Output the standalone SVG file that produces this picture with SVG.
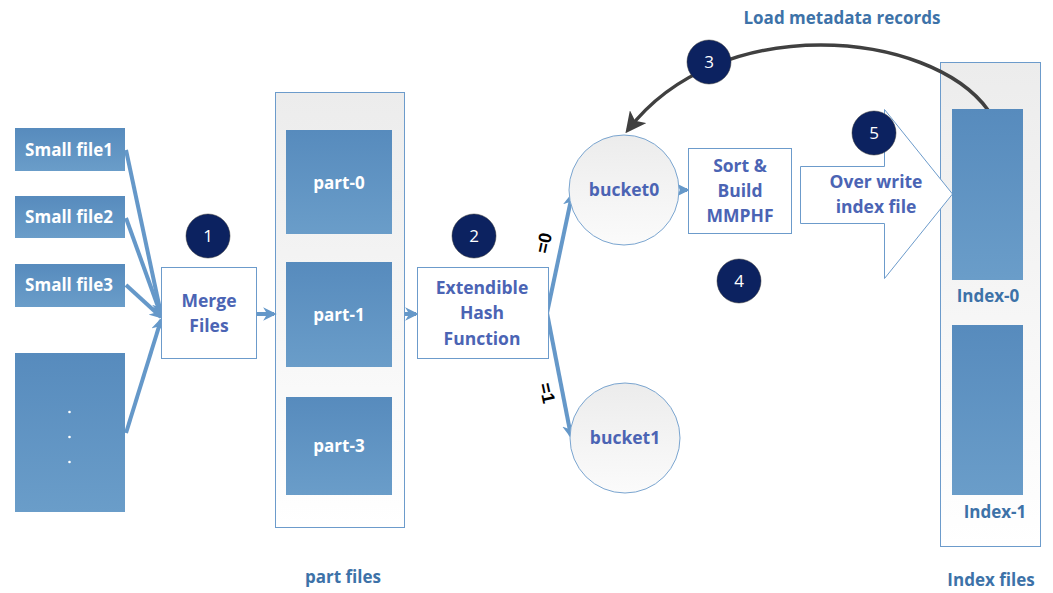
<svg xmlns="http://www.w3.org/2000/svg" width="1053" height="593" viewBox="0 0 1053 593">
<defs>
<linearGradient id="blue" x1="0" y1="0" x2="0" y2="1">
<stop offset="0" stop-color="#578bbd"/><stop offset="1" stop-color="#6a9dc9"/>
</linearGradient>
<linearGradient id="pale" x1="0" y1="0" x2="0" y2="1">
<stop offset="0" stop-color="#ececec"/><stop offset="1" stop-color="#ffffff"/>
</linearGradient>
<linearGradient id="ball" x1="0" y1="0" x2="0" y2="1">
<stop offset="0" stop-color="#ececec"/><stop offset="1" stop-color="#fbfbfb"/>
</linearGradient>
<marker id="ab" viewBox="0 0 10 10" refX="8" refY="5" markerWidth="3.4" markerHeight="3.4" orient="auto" markerUnits="strokeWidth">
<path d="M0,0 L10,5 L0,10 L3,5 z" fill="#6598c9"/>
</marker>
<marker id="ad" viewBox="0 0 10 10" refX="8" refY="5" markerWidth="6" markerHeight="6" orient="auto" markerUnits="strokeWidth">
<path d="M0,0 L10,5 L0,10 L2.5,5 z" fill="#404040"/>
</marker>
<style>
.fb{fill:url(#blue);}
.wt{font-family:"Open Sans","Liberation Sans",sans-serif;font-weight:bold;font-size:17px;fill:#ffffff;text-anchor:middle;}
.bt{font-family:"Open Sans","Liberation Sans",sans-serif;font-weight:bold;font-size:17.5px;fill:#4b64b4;text-anchor:middle;}
.lt{font-family:"Open Sans","Liberation Sans",sans-serif;font-weight:bold;font-size:17px;fill:#3d72a8;text-anchor:middle;}
.box{fill:#ffffff;stroke:#6c9bcb;stroke-width:1;}
.cont{fill:url(#pale);stroke:#6c9bcb;stroke-width:1;}
.num circle{fill:#0c2260;stroke:#333;stroke-width:0.5;}
.num text{font-family:"Open Sans","Liberation Sans",sans-serif;font-size:17px;fill:#ffffff;text-anchor:middle;}
.ln{stroke:#6598c9;stroke-width:4;fill:none;}
.eq{font-family:"Liberation Sans",sans-serif;font-weight:bold;font-size:18px;fill:#000;text-anchor:middle;}
</style>
</defs>
<rect width="1053" height="593" fill="#ffffff"/>

<g id="part-files">
<rect class="cont" x="275.5" y="92.5" width="129" height="435"/>
<text class="lt" x="343" y="583">part files</text>
</g>
<g id="index-files">
<rect class="cont" x="940.5" y="62.5" width="100" height="484"/>
<text class="lt" x="991" y="586">Index files</text>
</g>

<g id="connectors">
<line class="ln" x1="126" y1="150" x2="161" y2="314" marker-end="url(#ab)"/>
<line class="ln" x1="126" y1="218" x2="161" y2="315" marker-end="url(#ab)"/>
<line class="ln" x1="126" y1="285" x2="161" y2="317" marker-end="url(#ab)"/>
<line class="ln" x1="126" y1="433" x2="161" y2="320" marker-end="url(#ab)"/>
<line class="ln" x1="257" y1="314" x2="274" y2="314" marker-end="url(#ab)"/>
<line class="ln" x1="405" y1="314" x2="416" y2="314" marker-end="url(#ab)"/>
<polyline class="ln" points="547,313 572,195" marker-end="url(#ab)"/>
<polyline class="ln" points="547,313 571,436" marker-end="url(#ab)"/>
<line class="ln" x1="680" y1="190" x2="687" y2="190" marker-end="url(#ab)"/>
<path d="M988,110 C930,30 720,10 628,130" fill="none" stroke="#404040" stroke-width="3.5" marker-end="url(#ad)"/>
<text class="eq" transform="translate(544,243) rotate(-78)" dy="6">=0</text>
<text class="eq" transform="translate(547,393) rotate(78)" dy="6">=1</text>
</g>

<g id="small-file1"><rect class="fb" x="15" y="128" width="110" height="43"/><text class="wt" x="69" y="156">Small file1</text></g>
<g id="small-file2"><rect class="fb" x="15" y="196" width="110" height="42"/><text class="wt" x="69" y="223">Small file2</text></g>
<g id="small-file3"><rect class="fb" x="15" y="264" width="110" height="43"/><text class="wt" x="69" y="291">Small file3</text></g>
<g id="small-more"><rect class="fb" x="15" y="353" width="110" height="159"/>
<circle cx="69.5" cy="412" r="1.3" fill="#fff"/><circle cx="69.5" cy="437" r="1.3" fill="#fff"/><circle cx="69.5" cy="462" r="1.3" fill="#fff"/></g>

<g id="merge"><rect class="box" x="161.5" y="267.5" width="95" height="91"/>
<text class="bt" x="209" y="307">Merge</text><text class="bt" x="209" y="332">Files</text></g>

<g id="part-0"><rect class="fb" x="286" y="130" width="106" height="104"/><text class="wt" x="339" y="189">part-0</text></g>
<g id="part-1"><rect class="fb" x="286" y="262" width="106" height="105"/><text class="wt" x="339" y="321">part-1</text></g>
<g id="part-3"><rect class="fb" x="286" y="397" width="106" height="98"/><text class="wt" x="339" y="452">part-3</text></g>

<g id="hash"><rect class="box" x="417.5" y="267.5" width="131" height="91"/>
<text class="bt" x="482" y="294">Extendible</text><text class="bt" x="482" y="319">Hash</text><text class="bt" x="482" y="345">Function</text></g>

<g id="bucket0"><circle cx="624" cy="190" r="55" fill="url(#ball)" stroke="#7aa5d0" stroke-width="1"/><text class="bt" x="624" y="196">bucket0</text></g>
<g id="bucket1"><circle cx="625" cy="438" r="55" fill="url(#ball)" stroke="#7aa5d0" stroke-width="1"/><text class="bt" x="625" y="444">bucket1</text></g>

<g id="sort"><rect class="box" x="688.5" y="148.5" width="103" height="85"/>
<text class="bt" x="740" y="172">Sort &amp;</text><text class="bt" x="740" y="197">Build</text><text class="bt" x="740" y="222">MMPHF</text></g>

<g id="overwrite"><polygon points="800.5,166.5 884.5,166.5 884.5,109.5 952.5,194 884.5,278.5 884.5,223.5 800.5,223.5" fill="#ffffff" stroke="#6c9bcb" stroke-width="1"/>
<text class="bt" x="876" y="188">Over write</text><text class="bt" x="876" y="213">index file</text></g>

<g id="index-0"><rect class="fb" x="952" y="109" width="71" height="171"/><text class="lt" x="988" y="302">Index-0</text></g>
<g id="index-1"><rect class="fb" x="952" y="325" width="71" height="170"/><text class="lt" x="995" y="518">Index-1</text></g>

<g id="load-label"><text class="lt" x="842" y="24" font-size="18.5">Load metadata records</text></g>

<g id="step1" class="num"><circle cx="208" cy="236" r="22"/><text x="208" y="242">1</text></g>
<g id="step2" class="num"><circle cx="474" cy="236" r="22"/><text x="474" y="242">2</text></g>
<g id="step3" class="num"><circle cx="709" cy="62" r="22"/><text x="709" y="68">3</text></g>
<g id="step4" class="num"><circle cx="739" cy="281" r="22"/><text x="739" y="287">4</text></g>
<g id="step5" class="num"><circle cx="874" cy="133" r="22"/><text x="874" y="139">5</text></g>
</svg>
